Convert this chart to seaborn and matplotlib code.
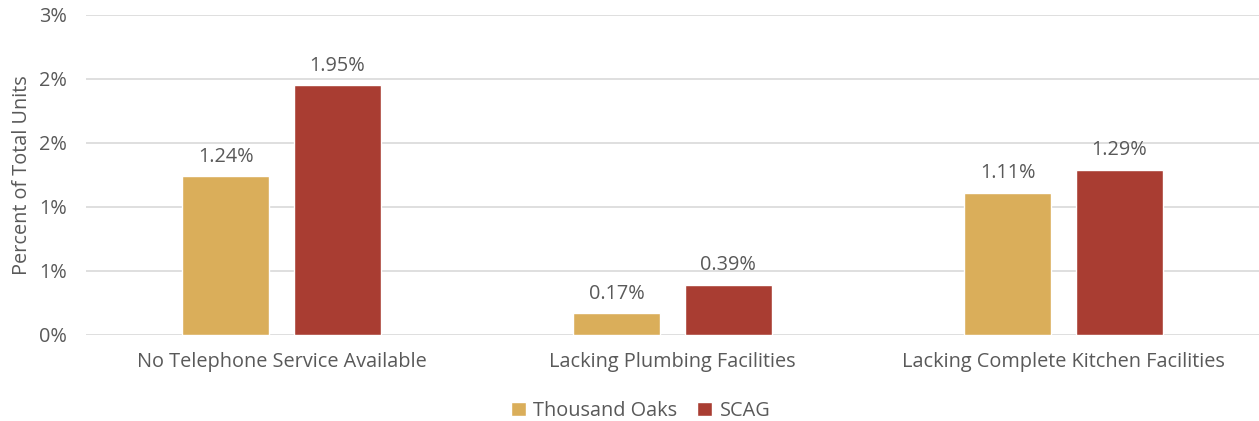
import pandas as pd
import seaborn as sns
import matplotlib.pyplot as plt

categories = ["No Telephone Service Available", "Lacking Plumbing Facilities",
              "Lacking Complete Kitchen Facilities"]
series = ["Thousand Oaks", "SCAG"]
thousand_oaks = [1.24, 0.17, 1.11]
scag = [1.95, 0.39, 1.29]
ytick_vals = [0, 0.5, 1.0, 1.5, 2.0, 2.5]
ytick_labels = ["0%", "1%", "1%", "2%", "2%", "3%"]

df = pd.DataFrame({
    "category": categories * 2,
    "region": [series[0]] * 3 + [series[1]] * 3,
    "value": thousand_oaks + scag,
})

sns.set_style("white")
plt.rcParams['font.family'] = ['Open Sans', 'DejaVu Sans']
grey = "#595959"
fs = 14.3

fig = plt.figure(figsize=(12.59, 4.21), dpi=100)
ax = fig.add_axes([0.0683, 0.2043, 0.9317, 0.7601])

sns.barplot(data=df, x="category", y="value", hue="region", order=categories,
            hue_order=series, palette=["#DAAE5A", "#A93D32"], saturation=1,
            width=0.57, gap=0.22, ax=ax, legend=True)

for cont in ax.containers:
    ax.bar_label(cont, labels=[f"{v:.2f}%" for v in cont.datavalues],
                 padding=7, fontsize=fs, color=grey)

ax.set_ylim(0, 2.5)
ax.set_xlim(-0.5, 2.5)
ax.set_yticks(ytick_vals)
ax.set_yticklabels(ytick_labels)
ax.yaxis.grid(True, color="#D9D9D9", linewidth=1.2)
ax.set_axisbelow(True)
for s in ax.spines.values():
    s.set_visible(False)
ax.tick_params(axis="both", length=0, labelsize=fs, labelcolor=grey)
ax.tick_params(axis="y", pad=14)
ax.tick_params(axis="x", pad=12)
ax.set_xlabel("")
ax.set_ylabel("Percent of Total Units", fontsize=fs, color=grey, labelpad=5)

ax.legend(loc="upper center", bbox_to_anchor=(0.473, -0.15), ncol=2, frameon=False,
          fontsize=fs, labelcolor=grey, handlelength=0.75, handleheight=0.75,
          handletextpad=0.4, columnspacing=1.0)

fig.savefig("out.png", dpi=100)
